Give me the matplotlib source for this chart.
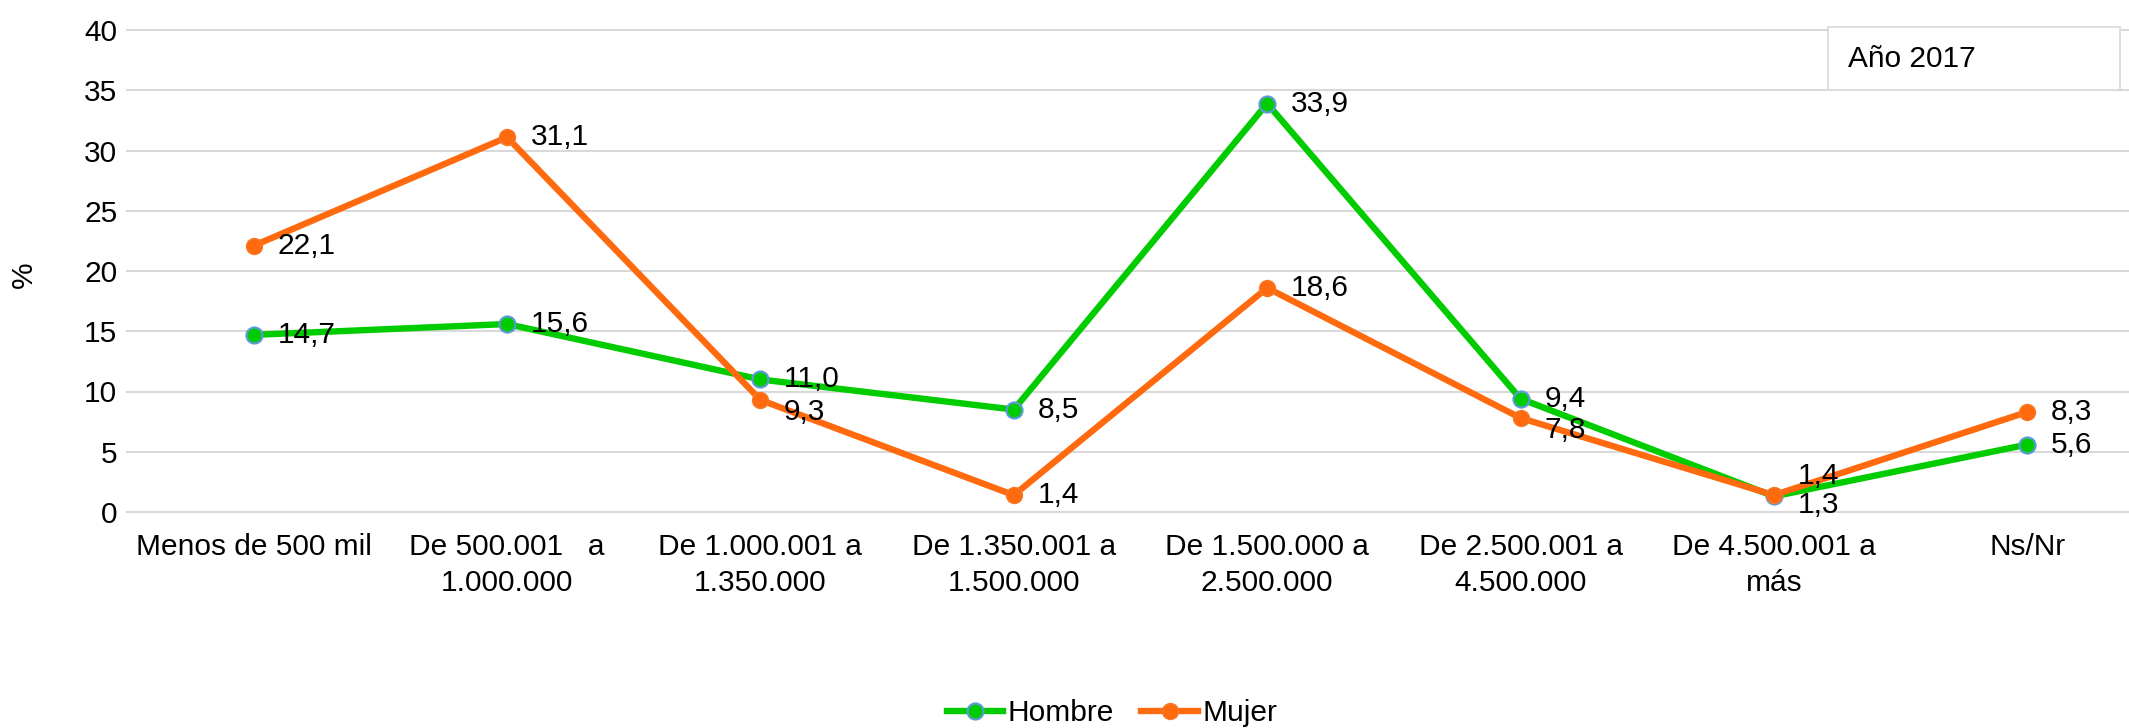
import matplotlib
matplotlib.use("Agg")
import matplotlib.pyplot as plt
from matplotlib.patches import Rectangle

plt.rcParams['font.family'] = ['Liberation Sans', 'DejaVu Sans']

categories = ["Menos de 500 mil", "De 500.001   a\n1.000.000", "De 1.000.001 a\n1.350.000",
              "De 1.350.001 a\n1.500.000", "De 1.500.000 a\n2.500.000", "De 2.500.001 a\n4.500.000",
              "De 4.500.001 a\nmás", "Ns/Nr"]
hombre = [14.7, 15.6, 11.0, 8.5, 33.9, 9.4, 1.3, 5.6]
mujer = [22.1, 31.1, 9.3, 1.4, 18.6, 7.8, 1.4, 8.3]
yticks = [0, 5, 10, 15, 20, 25, 30, 35, 40]

# vertical label offsets (points) per point, default centered to the right
hombre_dy = [0, 0, 0, 0, 0, 0, -6, 0]
mujer_dy = [0, 0, -8.6, 0, 0, -8.6, 14, 0]

FS = 21.5
GREEN = '#00CC00'
ORANGE = '#FF6A0E'

fig = plt.figure(figsize=(21.29, 7.28), dpi=100)
W, H = 2129, 728
ax = fig.add_axes([127 / W, (H - 512) / H, (2154 - 127) / W, 482 / H])

x = list(range(len(categories)))
ax.plot(x, hombre, color=GREEN, lw=4.6, marker='o', ms=11.5, mfc=GREEN,
        mec='#5B9BD5', mew=1.6, label='Hombre', zorder=3)
ax.plot(x, mujer, color=ORANGE, lw=4.6, marker='o', ms=11.5, mfc=ORANGE,
        mec='#F47A2A', mew=1.0, label='Mujer', zorder=4)

for xi, v, dy in zip(x, hombre, hombre_dy):
    ax.annotate(f"{v:.1f}".replace('.', ','), (xi, v), xytext=(17, dy),
                textcoords='offset points', ha='left', va='center',
                fontsize=FS, color='black', zorder=6)
for xi, v, dy in zip(x, mujer, mujer_dy):
    ax.annotate(f"{v:.1f}".replace('.', ','), (xi, v), xytext=(17, dy),
                textcoords='offset points', ha='left', va='center',
                fontsize=FS, color='black', zorder=6)

ax.set_xlim(-0.5, len(categories) - 0.5)
ax.set_ylim(0, 40)
ax.set_yticks(yticks)
ax.set_yticklabels([str(t) for t in yticks], fontsize=FS)
ax.set_xticks(x)
ax.set_xticklabels(categories, fontsize=FS, linespacing=1.35)
ax.tick_params(axis='both', length=0)
ax.tick_params(axis='y', pad=7)
ax.tick_params(axis='x', pad=15)
for s in ax.spines.values():
    s.set_visible(False)
ax.yaxis.grid(True, color='#D9D9D9', lw=1.5)
ax.set_axisbelow(True)
for gl in ax.get_ygridlines():
    gl.set_clip_on(False)

fig.text(24 / W, (H - 275) / H, '%', rotation=90, fontsize=FS, ha='center', va='center')

# Text box "Año 2017"
rect = Rectangle((1828 / W, (H - 90) / H), 292 / W, 63 / H, transform=fig.transFigure,
                 facecolor='white', edgecolor='#D9D9D9', lw=1.2, zorder=5)
fig.add_artist(rect)
fig.text(1848 / W, (H - 67) / H, 'Año 2017', fontsize=FS, ha='left', va='baseline', zorder=6)

fig.legend(loc='center', bbox_to_anchor=(1112 / W, (H - 713) / H), ncol=2, frameon=False,
           fontsize=FS, handlelength=1.9, handletextpad=0.15, columnspacing=0.9, numpoints=1)

fig.savefig('out.png', dpi=100)
